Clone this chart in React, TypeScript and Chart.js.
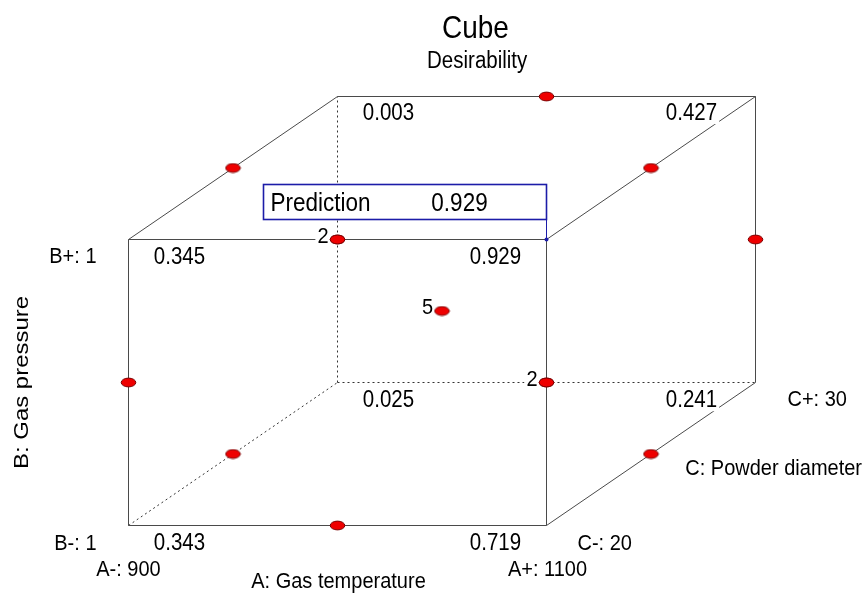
import { useEffect, useRef } from "react";
import { Chart, registerables } from "chart.js";

Chart.register(...registerables);

// ---------------- data ----------------
const chartTitle = "Cube";
const chartSubtitle = "Desirability";
const factorNames = ["A: Gas temperature", "B: Gas pressure", "C: Powder diameter"];
const factorLowLabels = ["A-: 900", "B-: 1", "C-: 20"];
const factorHighLabels = ["A+: 1100", "B+: 1", "C+: 30"];

// cube corners in coded units
const cornerA = [-1, 1, -1, 1, -1, 1, -1, 1];
const cornerB = [-1, -1, 1, 1, -1, -1, 1, 1];
const cornerC = [-1, -1, -1, -1, 1, 1, 1, 1];
const cornerValues = [0.343, 0.719, 0.345, 0.929, 0.025, 0.241, 0.003, 0.427];

// design runs (edge centres + centre point)
const runA = [0, -1, 0, 1, -1, 0, 1, 1, 1, -1, 0, -1, 0];
const runB = [-1, 0, 1, 0, 1, 1, 1, 0, -1, -1, 0, 0, -1];
const runC = [-1, -1, -1, -1, 0, 1, 0, 1, 0, 0, 0, 1, 1];

// replicate counts shown next to points
const replicateA = [0, 1, 0];
const replicateB = [1, 0, 0];
const replicateC = [-1, -1, 0];
const replicateCounts = [2, 2, 5];

const predictionLabel = "Prediction";
const predictionValue = 0.929;
const predictionCorner = 3; // A+, B+, C-
const hiddenCorner = 4; // A-, B-, C+

// ---------------- style / projection ----------------
const W = 866;
const H = 594;
const UNIT_X = 209;
const UNIT_Y = 143;
const ORIGIN_X = 442;
const ORIGIN_Y = 311;
const DEPTH = 0.5;
const SY = 1.14;
const FONT = '"Liberation Sans", Arial, Helvetica, sans-serif';
const BLUE = "#1c1ca8";

const projX = (a: number, c: number) => a + DEPTH * c;
const projY = (b: number, c: number) => b + DEPTH * c;

function makeEllipse(): HTMLCanvasElement {
  const cv = document.createElement("canvas");
  cv.width = 17;
  cv.height = 11;
  const g = cv.getContext("2d")!;
  g.beginPath();
  g.ellipse(8.5, 5.5, 7.3, 4.4, 0, 0, Math.PI * 2);
  g.fillStyle = "#ee0000";
  g.fill();
  g.lineWidth = 1;
  g.strokeStyle = "#7a0000";
  g.stroke();
  return cv;
}

function drawLabel(
  ctx: CanvasRenderingContext2D,
  text: string,
  x: number,
  y: number,
  size: number,
  align: CanvasTextAlign,
  bg = true,
  color = "#000"
) {
  ctx.save();
  ctx.font = `${size}px ${FONT}`;
  ctx.textAlign = align;
  ctx.textBaseline = "alphabetic";
  const w = ctx.measureText(text).width;
  const left = align === "center" ? x - w / 2 : align === "right" ? x - w : x;
  if (bg) {
    ctx.fillStyle = "#fff";
    ctx.fillRect(left - 2, y - size * 0.78 * SY, w + 4, size * 0.98 * SY);
  }
  ctx.translate(x, y);
  ctx.scale(1, SY);
  ctx.fillStyle = color;
  ctx.fillText(text, 0, 0);
  ctx.restore();
}

export default function App() {
  const ref = useRef<HTMLCanvasElement | null>(null);

  useEffect(() => {
    const canvas = ref.current;
    if (!canvas) return;

    const ellipse = makeEllipse();

    // edges: corner pairs differing in exactly one factor
    const edgeSets: any[] = [];
    for (let i = 0; i < 8; i++) {
      for (let j = i + 1; j < 8; j++) {
        const d =
          (cornerA[i] !== cornerA[j] ? 1 : 0) +
          (cornerB[i] !== cornerB[j] ? 1 : 0) +
          (cornerC[i] !== cornerC[j] ? 1 : 0);
        if (d !== 1) continue;
        const hidden = i === hiddenCorner || j === hiddenCorner;
        edgeSets.push({
          data: [
            { x: projX(cornerA[i], cornerC[i]), y: projY(cornerB[i], cornerC[i]) },
            { x: projX(cornerA[j], cornerC[j]), y: projY(cornerB[j], cornerC[j]) },
          ],
          showLine: true,
          borderColor: hidden ? "#333" : "#4a4a4a",
          borderWidth: 1,
          borderDash: hidden ? [2, 3] : [],
          pointRadius: 0,
          fill: false,
        });
      }
    }

    const pointSet = {
      data: runA.map((a, k) => ({ x: projX(a, runC[k]), y: projY(runB[k], runC[k]) })),
      showLine: false,
      pointStyle: ellipse,
      pointRadius: 6,
    };

    const cubePlugin = {
      id: "cubeLabels",
      afterDatasetDraw(chart: any, args: any) {
        if (args.index !== 1) return;
        const ctx: CanvasRenderingContext2D = chart.ctx;
        const sx = chart.scales.x;
        const sy = chart.scales.y;
        const px = (a: number, c: number) => sx.getPixelForValue(projX(a, c));
        const py = (b: number, c: number) => sy.getPixelForValue(projY(b, c));

        // titles
        drawLabel(ctx, chartTitle, W * 0.549, 38, 28, "center", false);
        drawLabel(ctx, chartSubtitle, W * 0.551, 68, 20.5, "center", false);

        // corner values
        for (let i = 0; i < 8; i++) {
          const x = px(cornerA[i], cornerC[i]);
          const y = py(cornerB[i], cornerC[i]);
          const dx = cornerA[i] < 0 ? 51 : cornerC[i] < 0 ? -51 : -64;
          const dy = cornerC[i] > 0 && cornerB[i] > 0 ? 23 : 24;
          drawLabel(ctx, cornerValues[i].toFixed(3), x + dx, y + dy, 20.5, "center");
        }

        // factor labels
        const fl = (a: number, b: number, c: number) => [px(a, c), py(b, c)];
        let [x, y] = fl(-1, 1, -1);
        drawLabel(ctx, factorHighLabels[1], x - 32, y + 23, 20, "right");
        [x, y] = fl(-1, -1, -1);
        drawLabel(ctx, factorLowLabels[1], x - 32, y + 24, 20, "right");
        drawLabel(ctx, factorLowLabels[0], x, y + 50, 20, "center");
        [x, y] = fl(0, -1, -1);
        drawLabel(ctx, factorNames[0], x + 1, y + 62, 20, "center");
        [x, y] = fl(1, -1, -1);
        drawLabel(ctx, factorHighLabels[0], x + 1, y + 50, 20, "center");
        drawLabel(ctx, factorLowLabels[2], x + 31, y + 24, 20, "left");
        [x, y] = fl(1, -1, 1);
        drawLabel(ctx, factorHighLabels[2], x + 32, y + 23, 20, "left");
        [x, y] = fl(1, -1, 0);
        drawLabel(ctx, factorNames[2], W - 4, y + 21, 20, "right");

        // vertical axis label
        ctx.save();
        ctx.font = `21px ${FONT}`;
        ctx.textAlign = "center";
        ctx.textBaseline = "alphabetic";
        ctx.translate(28, py(0, -1));
        ctx.scale(1, SY);
        ctx.rotate(-Math.PI / 2);
        ctx.fillStyle = "#000";
        ctx.fillText(factorNames[1], 0, 0);
        ctx.restore();

        // replicate counts
        replicateCounts.forEach((n, k) => {
          const rx = px(replicateA[k], replicateC[k]);
          const ry = py(replicateB[k], replicateC[k]);
          drawLabel(ctx, String(n), rx - 9, ry + 3, 20, "right");
        });

        // prediction box
        const cx = px(cornerA[predictionCorner], cornerC[predictionCorner]);
        const cy = py(cornerB[predictionCorner], cornerC[predictionCorner]);
        const bx = cx - 283;
        const by = cy - 55;
        const bw = 283;
        const bh = 35;
        ctx.save();
        ctx.fillStyle = "#fff";
        ctx.fillRect(bx, by, bw, bh);
        ctx.strokeStyle = BLUE;
        ctx.lineWidth = 1.6;
        ctx.strokeRect(bx, by, bw, bh);
        ctx.beginPath();
        ctx.lineWidth = 1;
        ctx.moveTo(cx, by + bh);
        ctx.lineTo(cx, cy);
        ctx.stroke();
        ctx.beginPath();
        ctx.fillStyle = BLUE;
        ctx.arc(cx, cy, 2, 0, Math.PI * 2);
        ctx.fill();
        ctx.restore();
        drawLabel(ctx, predictionLabel, bx + 7, by + 26, 22.5, "left", false);
        drawLabel(ctx, predictionValue.toFixed(3), bx + 196, by + 26, 22.5, "center", false);
      },
    };

    const chart = new Chart(canvas, {
      type: "scatter",
      data: { datasets: [pointSet as any, ...edgeSets] },
      options: {
        animation: false,
        responsive: false,
        maintainAspectRatio: false,
        events: [],
        layout: { padding: 0, autoPadding: false },
        plugins: {
          legend: { display: false },
          tooltip: { enabled: false },
          title: { display: false },
        },
        scales: {
          x: {
            type: "linear",
            display: false,
            min: -ORIGIN_X / UNIT_X,
            max: (W - ORIGIN_X) / UNIT_X,
          },
          y: {
            type: "linear",
            display: false,
            min: -(H - ORIGIN_Y) / UNIT_Y,
            max: ORIGIN_Y / UNIT_Y,
          },
        },
      },
      plugins: [cubePlugin],
    });

    return () => chart.destroy();
  }, []);

  return (
    <div style={{ position: "absolute", left: 0, top: 0, width: W, height: H, background: "#fff" }}>
      <canvas ref={ref} width={W} height={H} style={{ display: "block", width: W, height: H }} />
    </div>
  );
}
